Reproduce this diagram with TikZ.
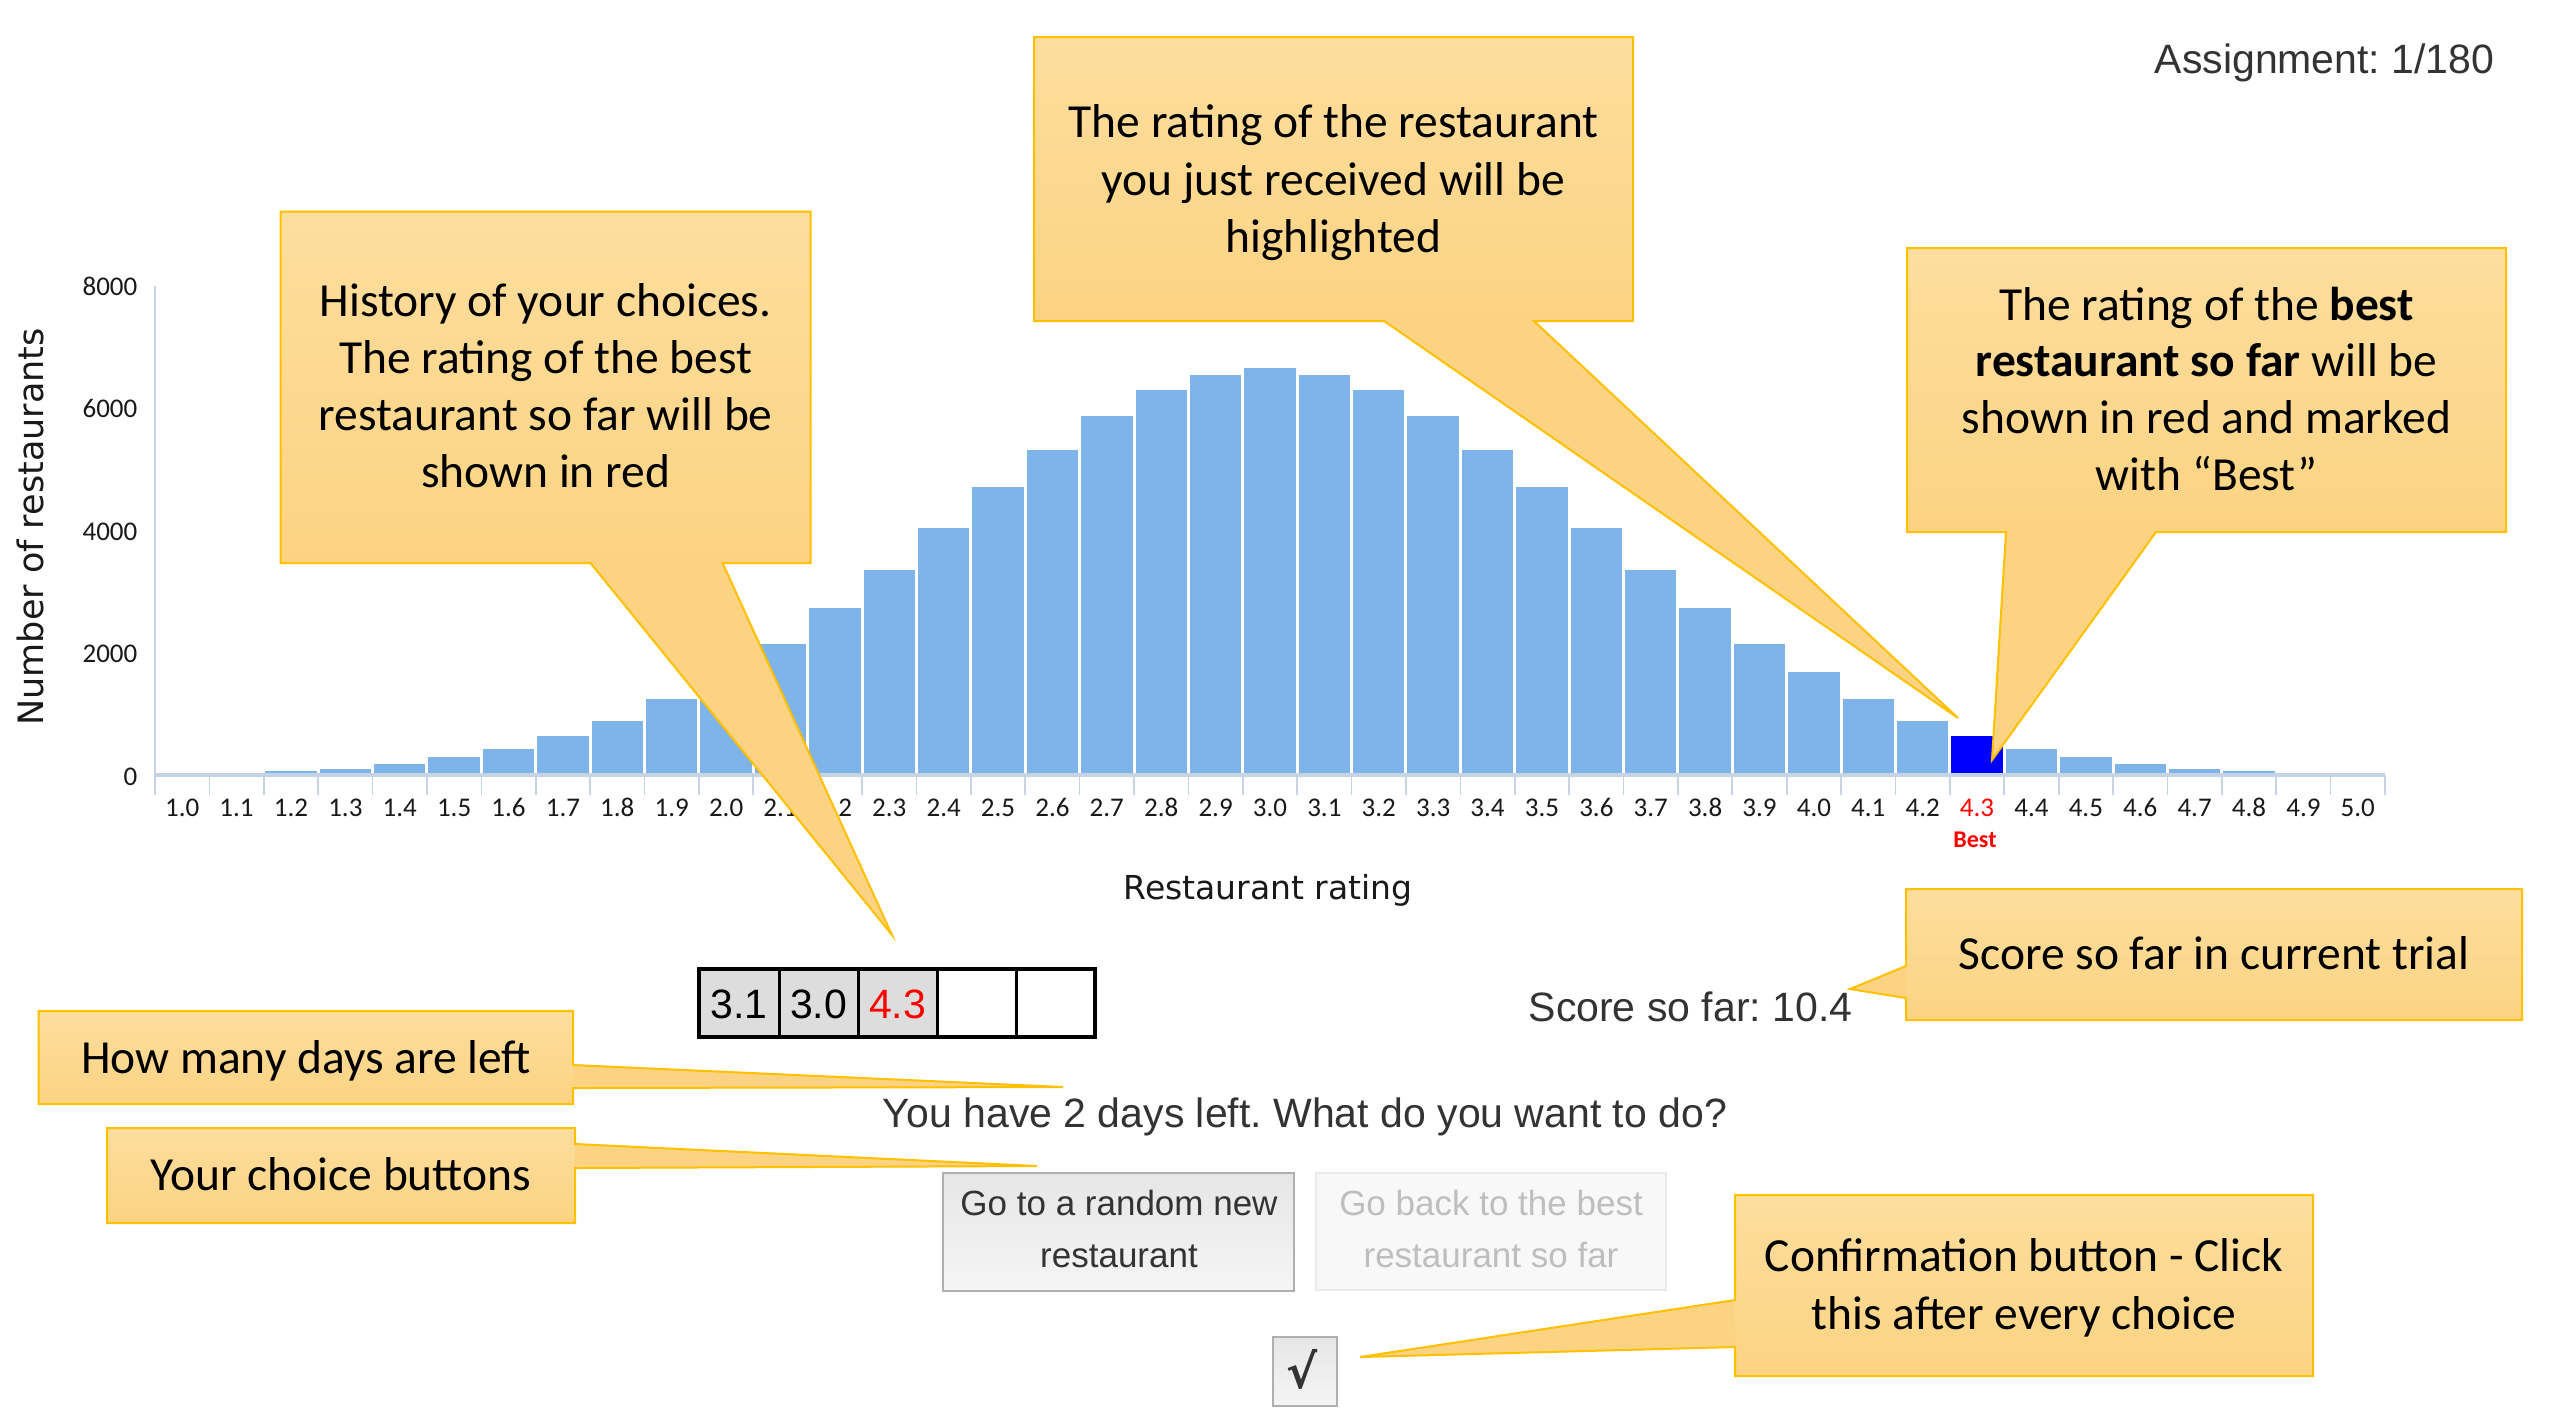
\documentclass[tikz,border=0pt]{standalone}
\usepackage{fontspec}
\setmainfont{Carlito}
\newfontfamily\uifont{Liberation Sans}
\newfontfamily\symfont{DejaVu Sans}
\frenchspacing
\definecolor{caltop}{RGB}{253,222,158}
\definecolor{calbot}{RGB}{252,211,130}
\definecolor{calborder}{RGB}{255,192,0}
\definecolor{barblue}{RGB}{126,180,234}
\definecolor{bestblue}{RGB}{0,0,255}
\definecolor{axiscol}{RGB}{197,211,229}
\definecolor{uigray}{RGB}{51,51,51}
\definecolor{cellgray}{RGB}{221,221,221}
\definecolor{btnborder}{RGB}{176,176,176}
\definecolor{btntop}{RGB}{230,230,230}
\definecolor{btnbot}{RGB}{245,245,245}
\definecolor{dimtext}{RGB}{190,190,190}
\definecolor{dimborder}{RGB}{234,234,234}
\definecolor{dimfill}{RGB}{248,248,248}
\begin{document}
\begin{tikzpicture}[x=0.3pt,y=-0.3pt,
  ctext/.style={font=\fontsize{14.25}{17}\selectfont, anchor=base, inner sep=0pt, text=black},
  uitext/.style={font=\uifont\fontsize{12.3}{14}\selectfont, text=uigray, anchor=base, inner sep=0pt},
  btntext/.style={font=\uifont\fontsize{10.5}{12}\selectfont, anchor=base, inner sep=0pt},
  xlab/.style={font=\fontsize{8.1}{9}\selectfont, anchor=base, inner sep=0pt, text=black!90},
  ylab/.style={font=\fontsize{8.1}{9}\selectfont, anchor=base east, inner sep=0pt, text=black!90},
  axtitle/.style={font=\symfont\fontsize{10.5}{12}\selectfont, anchor=base, inner sep=0pt, text=black!90},
  cborder/.style={draw=calborder, line width=0.6pt, line join=miter},
]
\useasboundingbox (0,0) rectangle (2550,1418);
\fill[white] (0,0) rectangle (2550,1418);

% ---------- chart ----------
\foreach \h [count=\i from 0] in {0,10,60,100,180,290,425,640,880,1240,1680,2150,2730,3360,4040,4720,5320,5880,6300,6550,6660,6550,6300,5880,5320,4720,4040,3360,2730,2150,1680,1240,880,640,425,290,180,100,60,10,0} {
  \pgfmathsetmacro\xa{155+\i*54.39+1.5}
  \pgfmathsetmacro\xb{155+(\i+1)*54.39-1.5}
  \pgfmathsetmacro\yt{775-\h*0.0611}
  \ifnum\i=33
    \fill[bestblue] (\xa,775) rectangle (\xb,\yt);
  \else
    \fill[barblue] (\xa,775) rectangle (\xb,\yt);
  \fi
}
\draw[axiscol, line width=0.6pt] (155,286) -- (155,795);
\draw[axiscol, line width=1.2pt] (155,775) -- (2385,775);
\foreach \i in {0,...,41} {
  \pgfmathsetmacro\xt{155+\i*54.39}
  \draw[axiscol, line width=0.5pt] (\xt,775) -- (\xt,795);
}
\foreach \l [count=\i from 0] in {1.0,1.1,1.2,1.3,1.4,1.5,1.6,1.7,1.8,1.9,2.0,2.1,2.2,2.3,2.4,2.5,2.6,2.7,2.8,2.9,3.0,3.1,3.2,3.3,3.4,3.5,3.6,3.7,3.8,3.9,4.0,4.1,4.2,4.3,4.4,4.5,4.6,4.7,4.8,4.9,5.0} {
  \pgfmathsetmacro\xc{155+(\i+0.5)*54.39}
  \ifnum\i=33
    \node[xlab, text=red] (xl\i) at (\xc,816) {\l};
  \else
    \node[xlab] (xl\i) at (\xc,816) {\l};
  \fi
}
\node[xlab, text=red, font=\bfseries\fontsize{7.2}{8}\selectfont] (best) at (1975,847) {Best};
\node[ylab] (y8) at (138,295) {8000};
\node[ylab] (y6) at (138,417) {6000};
\node[ylab] (y4) at (138,540) {4000};
\node[ylab] (y2) at (138,662) {2000};
\node[ylab] (y0) at (138,785) {0};
\node[axtitle, rotate=90] (ytitle) at (43,527) {Number of restaurants};
\node[axtitle, font=\symfont\fontsize{9.9}{12}\selectfont] (xtitle) at (1268,899) {Restaurant rating};

% ---------- UI ----------
\node[uitext, anchor=base east] (assign) at (2495,73) {Assignment: 1/180};
\node[uitext, anchor=base west] (score) at (1528,1021) {Score so far: 10.4};
\node[uitext] (question) at (1305,1127) {You have 2 days left. What do you want to do?};

\fill[cellgray] (699,969) rectangle (937,1037);
\draw[black, line width=0.9pt] (779,969) -- (779,1037) (858,969) -- (858,1037) (937,969) -- (937,1037) (1016,969) -- (1016,1037);
\draw[black, line width=1.3pt] (699,969) rectangle (1095,1037);
\node[uitext, text=black] (h1) at (739,1018) {3.1};
\node[uitext, text=black] (h2) at (818.5,1018) {3.0};
\node[uitext, text=red] (h3) at (897.5,1018) {4.3};

\shade[top color=btntop, bottom color=btnbot] (943,1173) rectangle (1294,1291);
\draw[btnborder, line width=0.7pt] (943,1173) rectangle (1294,1291);
\node[btntext, text=black!80] (b1a) at (1119,1215) {Go to a random new};
\node[btntext, text=black!80] (b1b) at (1119,1267) {restaurant};

\fill[dimfill] (1316,1173) rectangle (1666,1290);
\draw[dimborder, line width=0.6pt] (1316,1173) rectangle (1666,1290);
\node[btntext, text=dimtext] (b2a) at (1491,1215) {Go back to the best};
\node[btntext, text=dimtext] (b2b) at (1491,1267) {restaurant so far};

\shade[top color=btntop, bottom color=btnbot] (1273,1337) rectangle (1337,1406);
\draw[btnborder, line width=0.7pt] (1273,1337) rectangle (1337,1406);
\node[font=\symfont\bfseries\fontsize{14}{15}\selectfont, text=black!80, inner sep=0pt] (chk) at (1302,1369) {√};

% ---------- callouts ----------
% C1 history
\fill[calbot] (280.6,211.6) -- (810.6,211.6) -- (810.6,563) -- (722.6,563) -- (892,935) -- (590.5,563) -- (280.6,563) -- cycle;
\shade[top color=caltop, bottom color=calbot] (280.6,211.6) rectangle (810.6,563);
\draw[cborder] (280.6,211.6) -- (810.6,211.6) -- (810.6,563) -- (722.6,563) -- (892,935) -- (590.5,563) -- (280.6,563) -- cycle;
\node[ctext] (c1a) at (545.6,316) {History of your choices.};
\node[ctext] (c1b) at (545.6,373) {The rating of the best};
\node[ctext] (c1c) at (545.6,430) {restaurant so far will be};
\node[ctext] (c1d) at (545.6,487) {shown in red};

% C2 highlighted
\fill[calbot] (1034,37) -- (1633,37) -- (1633,321) -- (1534,321) -- (1958,718) -- (1384,321) -- (1034,321) -- cycle;
\shade[top color=caltop, bottom color=calbot] (1034,37) rectangle (1633,321);
\draw[cborder] (1034,37) -- (1633,37) -- (1633,321) -- (1534,321) -- (1958,718) -- (1384,321) -- (1034,321) -- cycle;
\node[ctext] (c2a) at (1333.5,137) {The rating of the restaurant};
\node[ctext] (c2b) at (1333.5,195) {you just received will be};
\node[ctext] (c2c) at (1333.5,252) {highlighted};

% C3 best
\fill[calbot] (1907,248) -- (2506,248) -- (2506,532) -- (2156,532) -- (1992,760) -- (2006,532) -- (1907,532) -- cycle;
\shade[top color=caltop, bottom color=calbot] (1907,248) rectangle (2506,532);
\draw[cborder] (1907,248) -- (2506,248) -- (2506,532) -- (2156,532) -- (1992,760) -- (2006,532) -- (1907,532) -- cycle;
\node[ctext] (c3a) at (2206.5,320) {The rating of the \textbf{best}};
\node[ctext] (c3b) at (2206.5,376) {\textbf{restaurant so far} will be};
\node[ctext] (c3c) at (2206.5,433) {shown in red and marked};
\node[ctext] (c3d) at (2206.5,490) {with “Best”};

% C4 score
\fill[calbot] (1906,889) -- (2522,889) -- (2522,1020) -- (1906,1020) -- (1906,998) -- (1850,989) -- (1906,966) -- cycle;
\shade[top color=caltop, bottom color=calbot] (1906,889) rectangle (2522,1020);
\draw[cborder] (1906,889) -- (2522,889) -- (2522,1020) -- (1906,1020) -- (1906,998) -- (1850,989) -- (1906,966) -- cycle;
\node[ctext] (c4) at (2214,969) {Score so far in current trial};

% C5 days
\fill[calbot] (38.6,1011) -- (573,1011) -- (573,1065) -- (1063,1087) -- (573,1088) -- (573,1104) -- (38.6,1104) -- cycle;
\shade[top color=caltop, bottom color=calbot] (38.6,1011) rectangle (573,1104);
\draw[cborder] (38.6,1011) -- (573,1011) -- (573,1065) -- (1063,1087) -- (573,1088) -- (573,1104) -- (38.6,1104) -- cycle;
\node[ctext] (c5) at (306,1073) {How many days are left};

% C6 buttons
\fill[calbot] (107,1128) -- (575,1128) -- (575,1144) -- (1037,1166) -- (575,1168) -- (575,1223) -- (107,1223) -- cycle;
\shade[top color=caltop, bottom color=calbot] (107,1128) rectangle (575,1223);
\draw[cborder] (107,1128) -- (575,1128) -- (575,1144) -- (1037,1166) -- (575,1168) -- (575,1223) -- (107,1223) -- cycle;
\node[ctext] (c6) at (341,1190) {Your choice buttons};

% C7 confirmation
\fill[calbot] (1735,1195) -- (2313,1195) -- (2313,1376) -- (1735,1376) -- (1735,1347) -- (1360,1357) -- (1735,1300) -- cycle;
\shade[top color=caltop, bottom color=calbot] (1735,1195) rectangle (2313,1376);
\draw[cborder] (1735,1195) -- (2313,1195) -- (2313,1376) -- (1735,1376) -- (1735,1347) -- (1360,1357) -- (1735,1300) -- cycle;
\node[ctext] (c7a) at (2024,1271) {Confirmation button - Click};
\node[ctext] (c7b) at (2024,1329) {this after every choice};
\end{tikzpicture}
\end{document}
